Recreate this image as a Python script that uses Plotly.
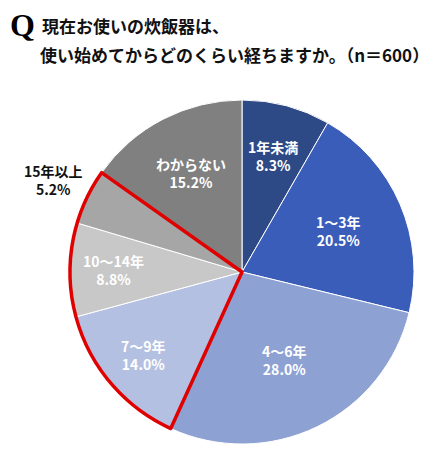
import math
import plotly.graph_objects as go

labels = ["1年未満", "1～3年", "4～6年", "7～9年", "10～14年", "15年以上", "わからない"]
values = [8.3, 20.5, 28.0, 14.0, 8.8, 5.2, 15.2]
colors = ["#2E4A86", "#3A5DBA", "#8EA1D3", "#B4C0E2", "#C8C8C8", "#A6A6A6", "#808080"]
highlight = [3, 4, 5]  # indices outlined in red

# label placement (fraction of radius) and colour
label_r = [0.70, 0.61, 0.57, 0.75, 0.75, 1.22, 0.65]
label_col = ["white"] * 5 + ["#111111", "white"]

W, H = 441, 459
cx, cy, r = 242, 272, 172
dom_x = [(cx - r) / W, (cx + r) / W]
dom_y = [(H - cy - r) / H, (H - cy + r) / H]

fig = go.Figure()
fig.add_trace(go.Pie(
    labels=labels, values=values, sort=False, direction="clockwise", rotation=0,
    marker=dict(colors=colors, line=dict(color="white", width=1)),
    textinfo="none",
    domain=dict(x=dom_x, y=dom_y), showlegend=False, hoverinfo="skip",
))

# red outline around the highlighted group
grp_vals = [sum(values[:3]), sum(values[i] for i in highlight), sum(values[6:])]
fig.add_trace(go.Pie(
    labels=["a", "b", "c"], values=grp_vals, sort=False, direction="clockwise", rotation=0,
    marker=dict(colors=["rgba(0,0,0,0)"] * 3,
                line=dict(color=["rgba(0,0,0,0)", "#E00000", "rgba(0,0,0,0)"], width=[0, 3.5, 0])),
    textinfo="none", domain=dict(x=dom_x, y=dom_y), showlegend=False, hoverinfo="skip",
))

total = sum(values)
cum = 0.0
for lab, v, fr, col in zip(labels, values, label_r, label_col):
    mid = (cum + v / 2) / total * 2 * math.pi
    cum += v
    px = cx + fr * r * math.sin(mid)
    py = cy - fr * r * math.cos(mid)
    fig.add_annotation(x=px / W, y=1 - py / H, xref="paper", yref="paper",
                       text=f"<b>{lab}<br>{v:.1f}%</b>", showarrow=False,
                       font=dict(family="Noto Sans CJK JP", size=14, color=col),
                       xanchor="center", yanchor="middle", align="center")

fig.add_annotation(x=8 / W, y=1 - 25 / H, xref="paper", yref="paper", text="<b>Q</b>",
                   showarrow=False, xanchor="left", yanchor="middle",
                   font=dict(family="Liberation Serif", size=32, color="#000000"))
fig.add_annotation(x=40 / W, y=1 - 26 / H, xref="paper", yref="paper", text="<b>現在お使いの炊飯器は、</b>",
                   showarrow=False, xanchor="left", yanchor="middle",
                   font=dict(family="Noto Sans CJK JP", size=17, color="#111111"))
fig.add_annotation(x=38 / W, y=1 - 54 / H, xref="paper", yref="paper",
                   text="<b>使い始めてからどのくらい経ちますか。（n＝600）</b>",
                   showarrow=False, xanchor="left", yanchor="middle",
                   font=dict(family="Noto Sans CJK JP", size=17, color="#111111"))

fig.update_layout(width=W, height=H, margin=dict(l=0, r=0, t=0, b=0),
                  paper_bgcolor="white", plot_bgcolor="white")
fig.write_html("out.html", config={"displayModeBar": False},
               post_script="document.body.style.margin='0';")
